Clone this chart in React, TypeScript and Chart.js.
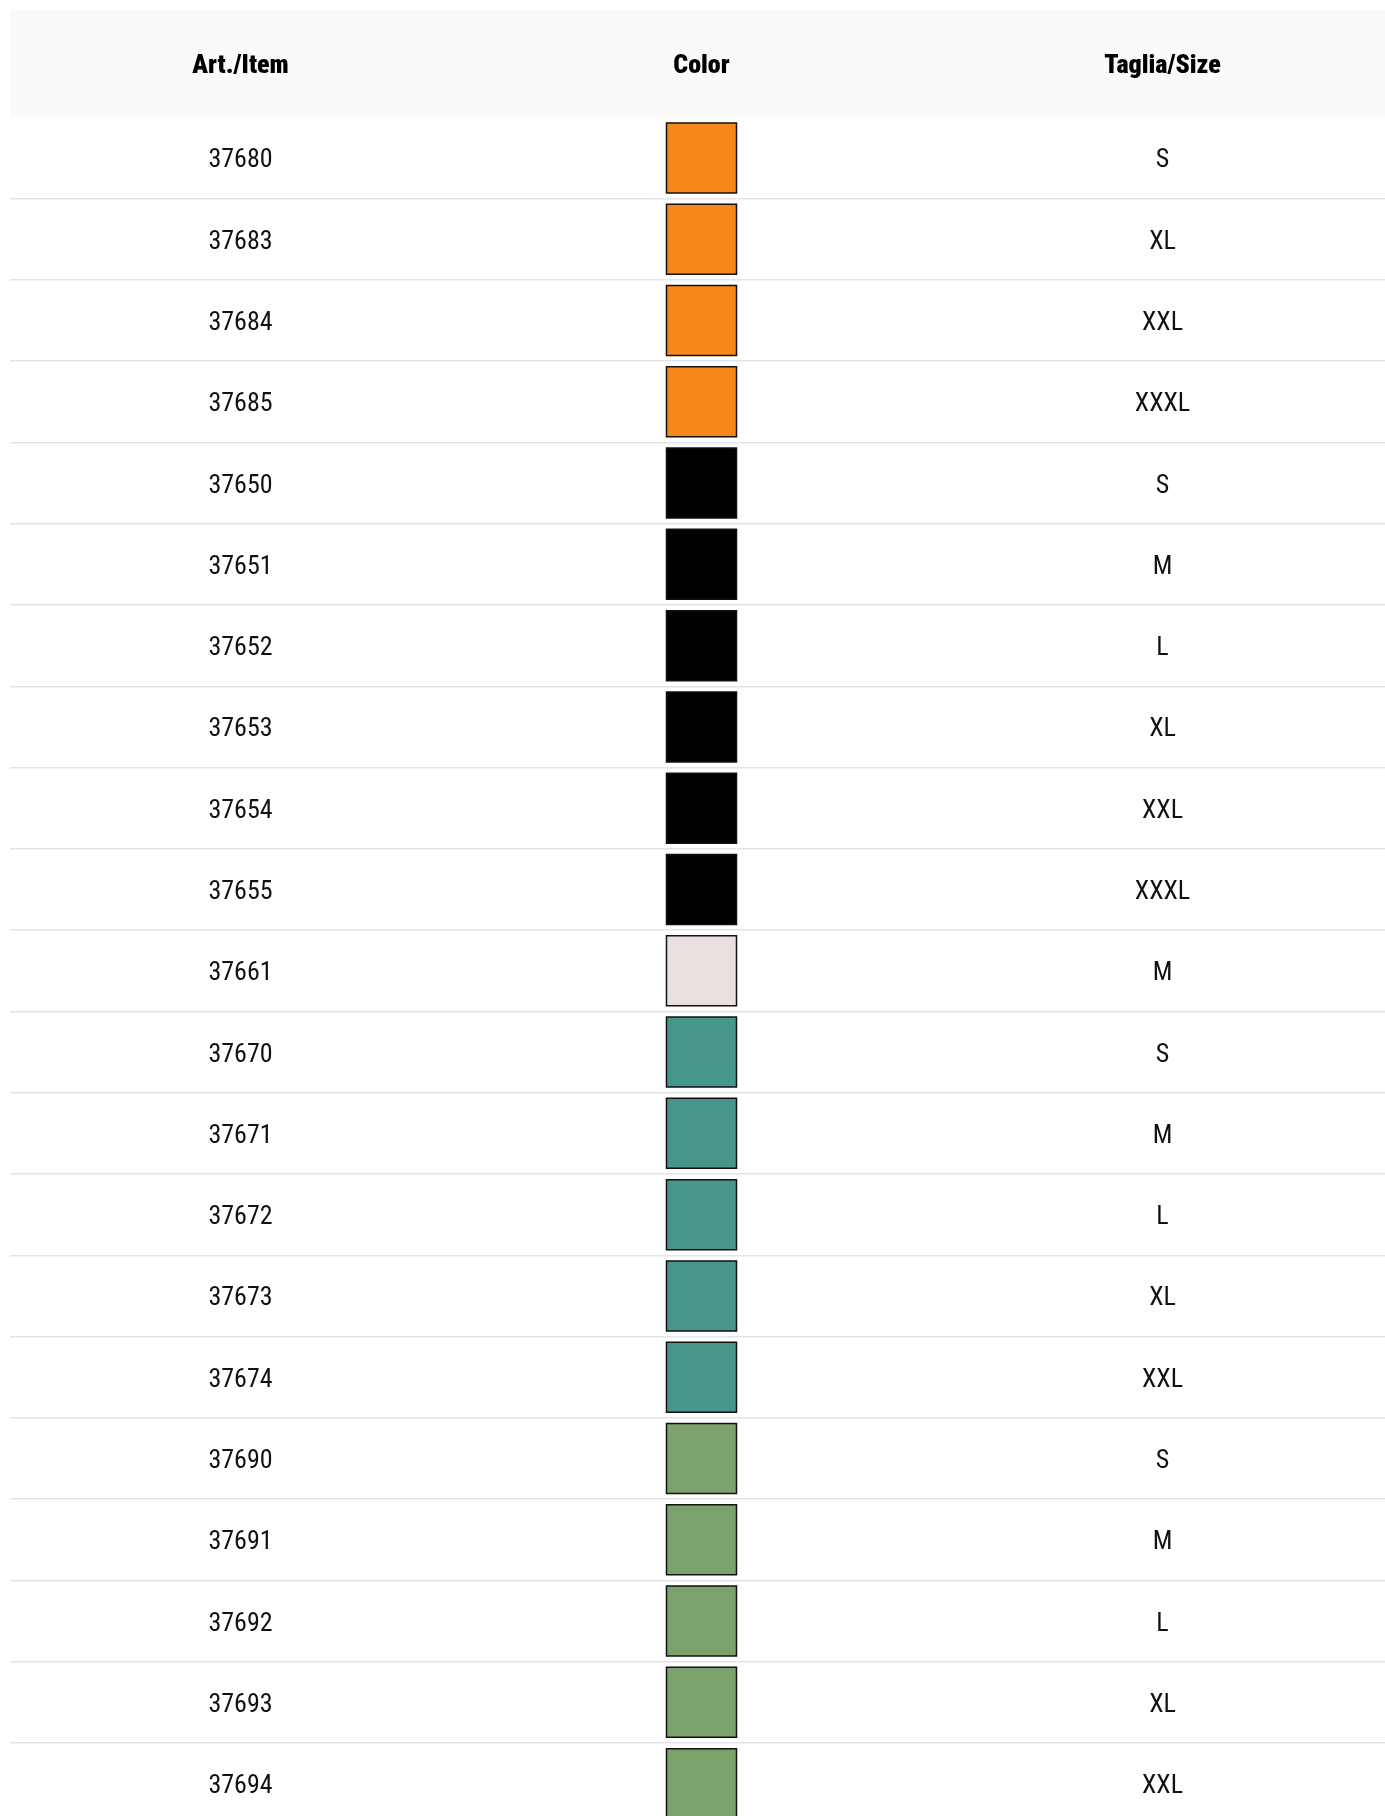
import React, { useEffect, useRef } from "react";
import { Chart, registerables } from "chart.js";

Chart.register(...registerables);

// ---- data ----
const headers = ["Art./Item", "Color", "Taglia/Size"];

const items = [
  "37680", "37683", "37684", "37685",
  "37650", "37651", "37652", "37653", "37654", "37655",
  "37661",
  "37670", "37671", "37672", "37673", "37674",
  "37690", "37691", "37692", "37693", "37694",
];

const ORANGE = "#F98618";
const BLACK = "#000000";
const IVORY = "#E9E1E0";
const TEAL = "#46978A";
const GREEN = "#7BA16C";

const swatchColors = [
  ORANGE, ORANGE, ORANGE, ORANGE,
  BLACK, BLACK, BLACK, BLACK, BLACK, BLACK,
  IVORY,
  TEAL, TEAL, TEAL, TEAL, TEAL,
  GREEN, GREEN, GREEN, GREEN, GREEN,
];

const sizes = [
  "S", "XL", "XXL", "XXXL",
  "S", "M", "L", "XL", "XXL", "XXXL",
  "M",
  "S", "M", "L", "XL", "XXL",
  "S", "M", "L", "XL", "XXL",
];

// column centres on the x scale (0..3)
const columnCenters = [0.5, 1.5, 2.5];

const BODY_FONT = '26px Roboto, "Noto Sans", sans-serif';
const HEAD_FONT = '900 26px Roboto, "Noto Sans", sans-serif';
const CONDENSE = 0.87;

function drawCondensed(ctx: any, text: string, x: number, y: number, font: string) {
  ctx.font = font;
  try { ctx.fontStretch = "normal"; } catch (e) {}
  const w0 = ctx.measureText(text).width;
  let ok = false;
  try {
    ctx.fontStretch = "condensed";
    const w1 = ctx.measureText(text).width;
    ok = w1 < w0 * 0.96;
    if (!ok) ctx.fontStretch = "normal";
  } catch (e) {}
  if (ok) {
    ctx.fillText(text, x, y);
  } else {
    ctx.save();
    ctx.translate(x, y);
    ctx.scale(CONDENSE, 1);
    ctx.fillText(text, 0, 0);
    ctx.restore();
  }
}

const tablePlugin = {
  id: "tablePlugin",
  beforeDraw(chart: any) {
    const { ctx } = chart;
    const xs = chart.scales.x;
    ctx.save();
    ctx.fillStyle = "#fafafa";
    ctx.fillRect(xs.left, xs.top, xs.right - xs.left, xs.bottom - xs.top);
    ctx.restore();
  },
  afterDatasetsDraw(chart: any) {
    const { ctx } = chart;
    const xs = chart.scales.x;
    const ys = chart.scales.y;
    ctx.save();
    ctx.textAlign = "center";
    ctx.textBaseline = "alphabetic";
    // header
    ctx.fillStyle = "#000";
    const headMid = (xs.top + xs.bottom) / 2;
    headers.forEach((h, i) => {
      drawCondensed(ctx, h, xs.getPixelForValue(columnCenters[i]), headMid + 9.5, HEAD_FONT);
    });
    // body
    ctx.fillStyle = "#111";
    items.forEach((it, i) => {
      const y = ys.getPixelForValue(i) + 9.5;
      drawCondensed(ctx, it, xs.getPixelForValue(columnCenters[0]), y, BODY_FONT);
      drawCondensed(ctx, sizes[i], xs.getPixelForValue(columnCenters[2]), y, BODY_FONT);
    });
    ctx.restore();
  },
};

export default function App() {
  const canvasRef = useRef<HTMLCanvasElement | null>(null);

  useEffect(() => {
    if (!canvasRef.current) return;
    const chart = new Chart(canvasRef.current, {
      type: "scatter",
      data: {
        labels: items,
        datasets: [
          {
            data: items.map((_, i) => ({ x: columnCenters[1], y: i })),
            backgroundColor: swatchColors,
            borderColor: "#111",
            borderWidth: 1.5,
            pointStyle: "rect",
            pointRadius: 49.5,
            pointHoverRadius: 49.5,
            clip: false as any,
          },
        ],
      },
      options: {
        animation: false,
        responsive: false,
        maintainAspectRatio: false,
        devicePixelRatio: 1,
        events: [],
        layout: { autoPadding: false, padding: { top: 10, left: 10, right: 2, bottom: 5.7 } },
        scales: {
          x: {
            type: "linear",
            position: "top",
            min: 0,
            max: 3,
            display: true,
            grid: { display: false, drawTicks: false },
            border: { display: false },
            ticks: { display: false },
            afterFit: (s: any) => { s.height = 107.3; },
          },
          y: {
            type: "category",
            labels: items,
            offset: true,
            display: true,
            grid: {
              offset: true,
              drawTicks: false,
              lineWidth: 1.5,
              color: (c: any) => (c.index === 0 ? "rgba(0,0,0,0)" : "#e4e4e4"),
            },
            border: { display: false },
            ticks: { display: false },
          },
        },
        plugins: {
          legend: { display: false },
          tooltip: { enabled: false },
        },
      },
      plugins: [tablePlugin],
    });
    return () => chart.destroy();
  }, []);

  return (
    <div
      style={{
        position: "fixed",
        left: 0,
        top: 0,
        width: 1385,
        height: 1816,
        overflow: "hidden",
        background: "#fff",
      }}
    >
      <canvas
        ref={canvasRef}
        width={1395}
        height={1830}
        style={{ display: "block", width: 1395, height: 1830 }}
      />
    </div>
  );
}
